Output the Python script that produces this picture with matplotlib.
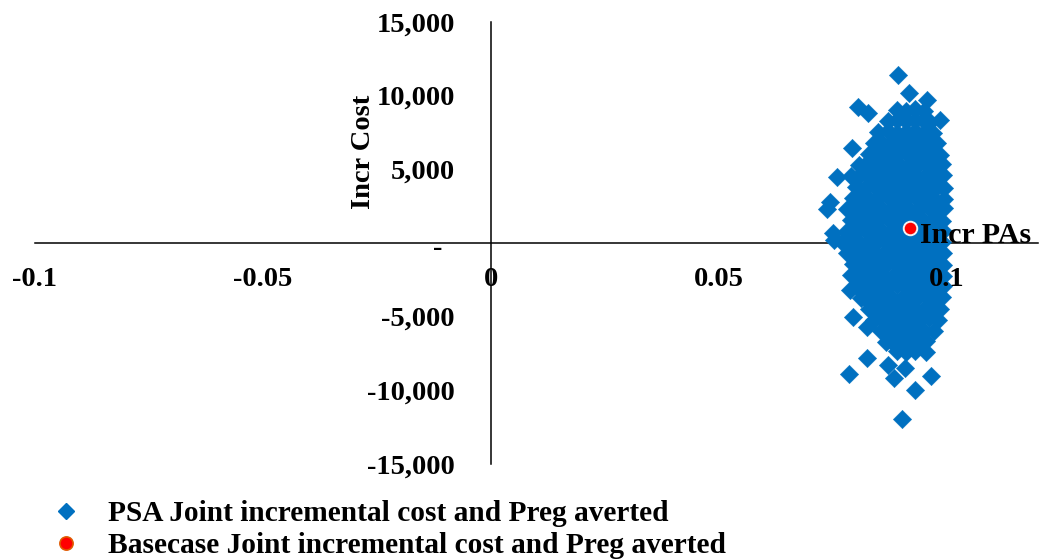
import matplotlib.pyplot as plt
from matplotlib.lines import Line2D
from matplotlib.transforms import ScaledTranslation

# PSA simulations: incremental pregnancies averted (x) and incremental cost (y)
# one line per band of the cloud
psa_pa = [
    0.0890, 0.0910, 0.0930, 0.0950,
    0.0870, 0.0890, 0.0910, 0.0930, 0.0950, 0.0964,
    0.0850, 0.0870, 0.0890, 0.0910, 0.0930, 0.0950, 0.0970,
    0.0840, 0.0860, 0.0880, 0.0900, 0.0920, 0.0940, 0.0960, 0.0978,
    0.0830, 0.0850, 0.0870, 0.0890, 0.0910, 0.0930, 0.0950, 0.0970, 0.0986,
    0.0808, 0.0820, 0.0840, 0.0860, 0.0880, 0.0900, 0.0920, 0.0940, 0.0960, 0.0980, 0.0990,
    0.0790, 0.0810, 0.0830, 0.0850, 0.0870, 0.0890, 0.0910, 0.0930, 0.0950, 0.0970, 0.0992,
    0.0800, 0.0820, 0.0840, 0.0860, 0.0880, 0.0900, 0.0920, 0.0940, 0.0960, 0.0980, 0.0993,
    0.0795, 0.0810, 0.0830, 0.0850, 0.0870, 0.0890, 0.0910, 0.0930, 0.0950, 0.0970, 0.0993,
    0.0780, 0.0800, 0.0820, 0.0840, 0.0860, 0.0880, 0.0900, 0.0920, 0.0940, 0.0960, 0.0980, 0.0993,
    0.0790, 0.0810, 0.0830, 0.0850, 0.0870, 0.0890, 0.0910, 0.0930, 0.0950, 0.0970, 0.0990,
    0.0780, 0.0800, 0.0820, 0.0840, 0.0860, 0.0880, 0.0900, 0.0920, 0.0940, 0.0960, 0.0980, 0.0991,
    0.0770, 0.0790, 0.0810, 0.0830, 0.0850, 0.0870, 0.0890, 0.0910, 0.0930, 0.0950, 0.0970, 0.0990,
    0.0780, 0.0800, 0.0820, 0.0840, 0.0860, 0.0880, 0.0900, 0.0920, 0.0940, 0.0960, 0.0980, 0.0991,
    0.0795, 0.0810, 0.0830, 0.0850, 0.0870, 0.0890, 0.0910, 0.0930, 0.0950, 0.0970, 0.0991,
    0.0790, 0.0800, 0.0820, 0.0840, 0.0860, 0.0880, 0.0900, 0.0920, 0.0940, 0.0960, 0.0980, 0.0991,
    0.0800, 0.0810, 0.0830, 0.0850, 0.0870, 0.0890, 0.0910, 0.0930, 0.0950, 0.0970, 0.0991,
    0.0812, 0.0820, 0.0840, 0.0860, 0.0880, 0.0900, 0.0920, 0.0940, 0.0960, 0.0980, 0.0990,
    0.0830, 0.0850, 0.0870, 0.0890, 0.0910, 0.0930, 0.0950, 0.0970, 0.0986,
    0.0840, 0.0860, 0.0880, 0.0900, 0.0920, 0.0940, 0.0960, 0.0980,
    0.0855, 0.0870, 0.0890, 0.0910, 0.0930, 0.0950, 0.0972,
    0.0866, 0.0880, 0.0900, 0.0920, 0.0940, 0.0954,
    0.0890, 0.0910, 0.0930,
    # scattered points around the cloud
    0.0893, 0.0917, 0.0805, 0.0827, 0.0956, 0.0985, 0.0792, 0.0759, 0.0743,
    0.0738, 0.0750, 0.0752, 0.0787, 0.0794, 0.0825, 0.0825, 0.0785, 0.0871,
    0.0884, 0.0908, 0.0930, 0.0965, 0.0901, 0.0954, 0.0919,
]
psa_cost = [
    9050, 8980, 9120, 8950,
    8300, 8350, 8250, 8380, 8300, 8200,
    7550, 7600, 7500, 7550, 7620, 7500, 7450,
    6800, 6750, 6850, 6750, 6800, 6880, 6750, 6800,
    6050, 6100, 6000, 6050, 6120, 6000, 6050, 5980, 6000,
    5300, 5300, 5250, 5350, 5300, 5250, 5300, 5380, 5250, 5300, 5350,
    4550, 4600, 4500, 4550, 4620, 4500, 4550, 4600, 4480, 4550, 4600,
    3800, 3750, 3850, 3800, 3720, 3800, 3880, 3750, 3800, 3850, 3750,
    3050, 3100, 3000, 3050, 3120, 3000, 3050, 3100, 2980, 3050, 3000,
    2300, 2250, 2350, 2300, 2220, 2300, 2380, 2250, 2300, 2350, 2250, 2380,
    1550, 1600, 1500, 1550, 1620, 1500, 1550, 1600, 1480, 1550, 1500,
    800, 750, 850, 800, 720, 800, 880, 750, 800, 850, 750, 800,
    50, 100, 0, 50, 120, 0, 50, 100, -20, 50, 0, 100,
    -700, -750, -650, -700, -780, -700, -620, -750, -700, -650, -750, -700,
    -1450, -1400, -1500, -1450, -1380, -1500, -1450, -1400, -1520, -1450, -1500,
    -2200, -2200, -2250, -2150, -2200, -2280, -2200, -2120, -2250, -2200, -2150, -2250,
    -2950, -2950, -2900, -3000, -2950, -2880, -3000, -2950, -2900, -3020, -2950,
    -3700, -3700, -3750, -3650, -3700, -3780, -3700, -3620, -3750, -3700, -3650,
    -4450, -4400, -4500, -4450, -4380, -4500, -4450, -4400, -4500,
    -5200, -5250, -5150, -5200, -5280, -5200, -5120, -5250,
    -5950, -5900, -6000, -5950, -5880, -6000, -5950,
    -6700, -6700, -6750, -6650, -6700, -6620,
    -7350, -7400, -7300,
    11410, 10190, 9230, 8830, 9710, 8350, 6450, 4480, 2780,
    2300, 680, 200, -3190, -5020, -5700, -7810, -8890, -8280,
    -9170, -8490, -9980, -9030, -11950, -7400, -7060,
]

# base case
base_pa = [0.0919]
base_cost = [1020]

x_ticks = [-0.1, -0.05, 0, 0.05, 0.1]
x_labels = ['-0.1', '-0.05', '0', '0.05', '0.1']
y_ticks = [-15000, -10000, -5000, 0, 5000, 10000, 15000]
y_labels = ['-15,000', '-10,000', '-5,000', '-', '5,000', '10,000', '15,000']

legend_labels = ['PSA Joint incremental cost and Preg averted',
                 'Basecase Joint incremental cost and Preg averted']

blue = '#0070C0'
red = '#FF0000'

plt.rcParams['font.family'] = ['Liberation Serif', 'DejaVu Serif']
plt.rcParams['font.weight'] = 'bold'

fig = plt.figure(figsize=(10.39, 5.59), dpi=100)
W, H = 1039, 559
ax = fig.add_axes([35 / W, (H - 464) / H, 1003 / W, 442 / H])

ax.scatter(psa_pa, psa_cost, marker='D', s=88, color=blue,
           edgecolors=blue, linewidths=0.3, zorder=2)
ax.scatter(base_pa, base_cost, marker='o', s=95, color=red,
           edgecolors='#F2F2F2', linewidths=1.4, zorder=3)

ax.set_xlim(-0.1, 0.12)
ax.set_ylim(-15000, 15000)

# axes cross at the origin
for side in ['top', 'right']:
    ax.spines[side].set_visible(False)
ax.spines['left'].set_position(('data', 0))
ax.spines['bottom'].set_position(('data', 0))
for side in ['left', 'bottom']:
    ax.spines[side].set_linewidth(1.1)
    ax.spines[side].set_zorder(1)

ax.set_xticks(x_ticks)
ax.set_xticklabels(x_labels)
ax.set_yticks(y_ticks)
ax.set_yticklabels(y_labels)
ax.tick_params(axis='both', length=0, labelsize=20.5)
ax.tick_params(axis='x', pad=17)
ax.tick_params(axis='y', pad=26)
ax.xaxis.set_zorder(4)
ax.yaxis.set_zorder(4)
for lab in ax.get_xticklabels() + ax.get_yticklabels():
    lab.set_fontweight('bold')

# the "-" for zero sits a bit further left
zero_lab = ax.get_yticklabels()[3]
zero_lab.set_transform(zero_lab.get_transform() +
                       ScaledTranslation(-12 / 100, -2 / 100, fig.dpi_scale_trans))

# axis titles
fig.text(370 / W, 1 - 152 / H, 'Incr Cost', rotation=90, rotation_mode='anchor',
         ha='center', va='baseline', fontsize=20.5, fontweight='bold')
fig.text(920 / W, 1 - 243 / H, 'Incr PAs', ha='left', va='baseline',
         fontsize=21.5, fontweight='bold', zorder=5)

handles = [
    Line2D([], [], marker='D', linestyle='none', markersize=8.5,
           markerfacecolor=blue, markeredgecolor=blue),
    Line2D([], [], marker='o', linestyle='none', markersize=9.5,
           markerfacecolor=red, markeredgecolor='#E05A00', markeredgewidth=1.2),
]
fig.legend(handles, legend_labels, loc='upper left',
           bbox_to_anchor=(46 / W, 1 - 500 / H), frameon=False,
           handlelength=1.35, handletextpad=0.75,
           borderpad=0, borderaxespad=0, labelspacing=0.17,
           prop={'weight': 'bold', 'size': 21.2})

fig.savefig('out.png', dpi=100)
